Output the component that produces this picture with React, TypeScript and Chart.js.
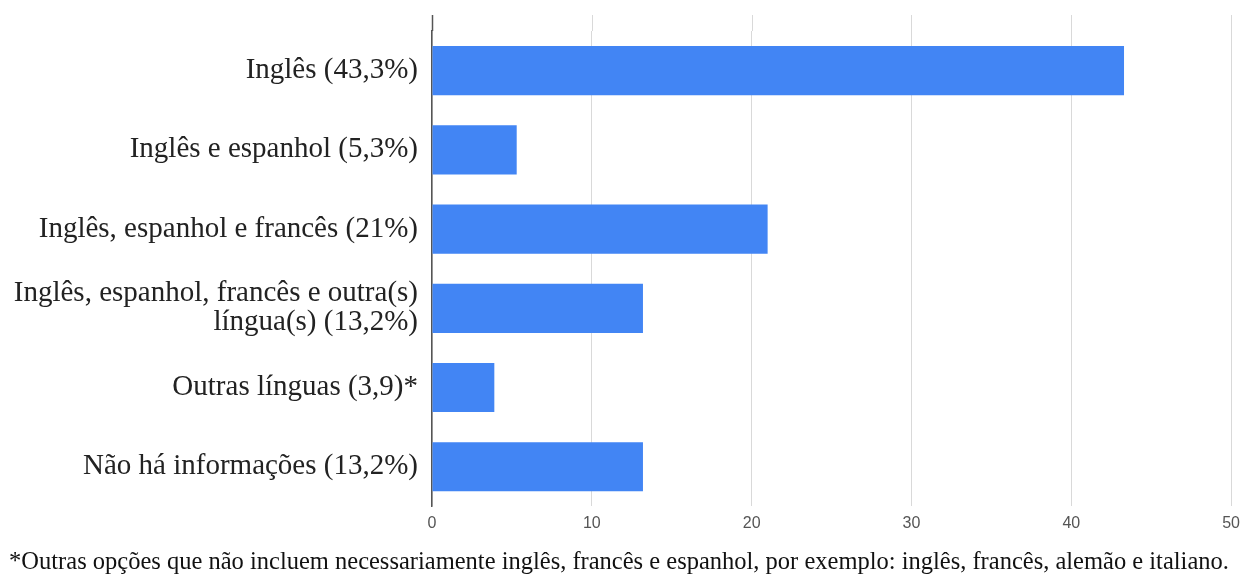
import React, { useEffect, useRef } from "react";
import { Chart, registerables } from "chart.js";
Chart.register(...registerables);

const categories: (string | string[])[] = [
  "Inglês (43,3%)",
  "Inglês e espanhol (5,3%)",
  "Inglês, espanhol e francês (21%)",
  ["Inglês, espanhol, francês e outra(s)", "língua(s) (13,2%)"],
  "Outras línguas (3,9)*",
  "Não há informações (13,2%)",
];
const values: number[] = [43.3, 5.3, 21, 13.2, 3.9, 13.2];
const xTicks: number[] = [0, 10, 20, 30, 40, 50];
const footnote =
  "*Outras opções que não incluem necessariamente inglês, francês e espanhol, por exemplo: inglês, francês, alemão e italiano.";

const GRID_TOP = 15;

const extendGrid = {
  id: "extendGrid",
  beforeDatasetsDraw(chart: any) {
    const { ctx, chartArea, scales } = chart;
    const x = scales.x;
    ctx.save();
    x.ticks.forEach((t: any, i: number) => {
      const px = Math.round(x.getPixelForValue(t.value)) + 0.5;
      ctx.beginPath();
      if (i === 0) {
        ctx.strokeStyle = "#555";
        ctx.lineWidth = 1.5;
      } else {
        ctx.strokeStyle = "#d9d9d9";
        ctx.lineWidth = 1;
      }
      ctx.moveTo(px, GRID_TOP);
      ctx.lineTo(px, chartArea.top);
      ctx.stroke();
    });
    ctx.restore();
  },
};

export default function App() {
  const ref = useRef<HTMLCanvasElement>(null);
  useEffect(() => {
    document.body.style.margin = "0";
    const chart = new Chart(ref.current!, {
      type: "bar",
      data: {
        labels: categories,
        datasets: [
          {
            data: values,
            backgroundColor: "#4285F4",
            borderWidth: 0,
            barPercentage: 0.62,
            categoryPercentage: 1,
          },
        ],
      },
      plugins: [extendGrid],
      options: {
        indexAxis: "y",
        animation: false,
        responsive: false,
        maintainAspectRatio: false,
        layout: { padding: { top: 31, right: 10, left: 0, bottom: 2 } },
        plugins: {
          legend: { display: false },
          tooltip: { enabled: false },
          title: {
            display: true,
            position: "bottom",
            text: footnote,
            color: "#111",
            font: { family: "'Liberation Serif', serif", size: 24.5, weight: "normal", lineHeight: 1.2 },
            padding: { top: 6, bottom: 0 },
          },
        },
        scales: {
          x: {
            min: 0,
            max: 50,
            afterBuildTicks: (s: any) => {
              s.ticks = xTicks.map((v) => ({ value: v }));
            },
            grid: { color: "#d9d9d9", drawTicks: false },
            border: { display: false },
            ticks: {
              color: "#555",
              font: { family: "'Liberation Sans', sans-serif", size: 16 },
              padding: 8,
            },
          },
          y: {
            afterFit: (s: any) => {
              s.width = 432;
            },
            grid: { display: false, drawTicks: false },
            border: { display: true, color: "#555", width: 1.5 },
            ticks: {
              color: "#222",
              font: { family: "'Liberation Serif', serif", size: 29, lineHeight: 1.0 },
              padding: 14,
            },
          },
        },
      },
    });
    return () => chart.destroy();
  }, []);
  return <canvas ref={ref} width={1248} height={579} style={{ display: "block" }} />;
}
